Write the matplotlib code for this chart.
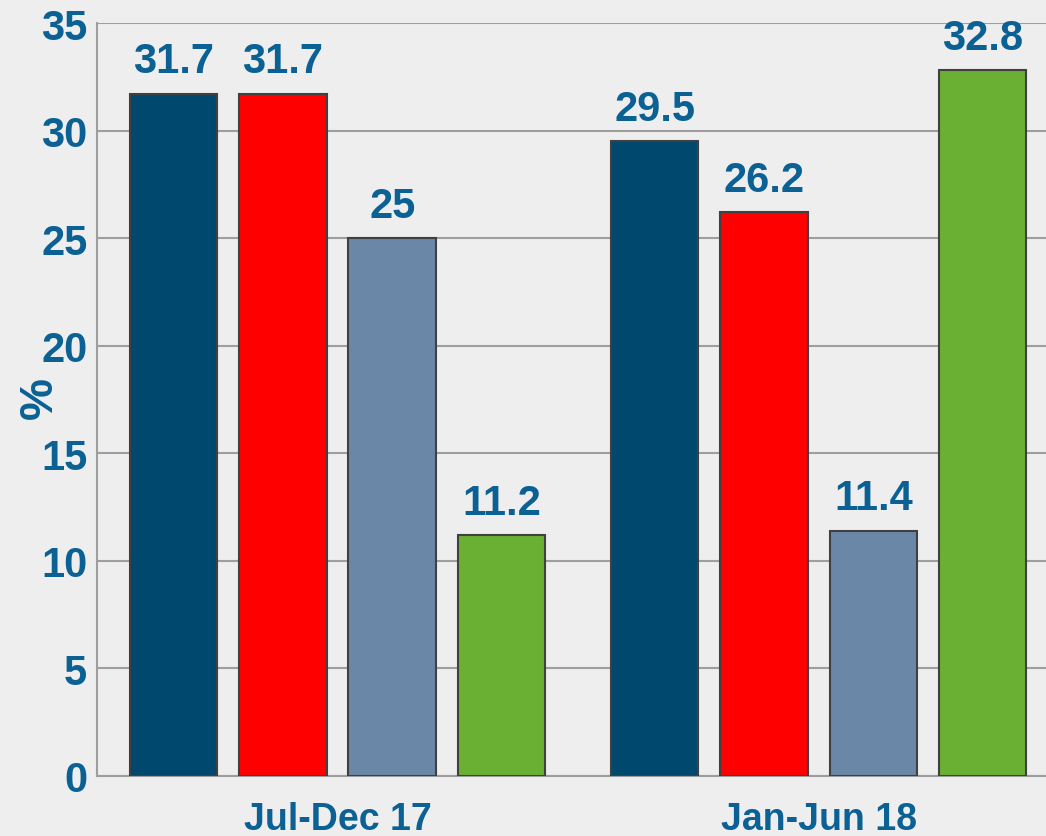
import matplotlib
matplotlib.use("Agg")
from matplotlib import pyplot as plt

periods = ["Jul-Dec 17", "Jan-Jun 18"]
series_colors = ["#00486e", "#ff0000", "#6a87a7", "#6ab033"]
values_jul_dec_17 = [31.7, 31.7, 25, 11.2]
values_jan_jun_18 = [29.5, 26.2, 11.4, 32.8]
value_labels_jul_dec_17 = ["31.7", "31.7", "25", "11.2"]
value_labels_jan_jun_18 = ["29.5", "26.2", "11.4", "32.8"]
y_ticks = [0, 5, 10, 15, 20, 25, 30, 35]

text_color = "#0b6194"
bg = "#eeeeee"

plt.rcParams["font.family"] = ["Liberation Sans", "DejaVu Sans"]
plt.rcParams["font.weight"] = "bold"

fig = plt.figure(figsize=(10.46, 8.37), dpi=100, facecolor=bg)
ax = fig.add_axes([97 / 1046, 60 / 837, 1 - 97 / 1046, (777 - 24) / 837])
ax.set_facecolor(bg)

group_step = 4.4
groups = [values_jul_dec_17, values_jan_jun_18]
group_labels = [value_labels_jul_dec_17, value_labels_jan_jun_18]
for g, (vals, labs) in enumerate(zip(groups, group_labels)):
    xs = [g * group_step + i for i in range(len(vals))]
    bars = ax.bar(xs, vals, width=0.8, color=series_colors,
                  edgecolor="#404040", linewidth=1.5, zorder=3)
    for b, lab in zip(bars, labs):
        ax.annotate(lab, (b.get_x() + b.get_width() / 2, b.get_height()),
                    xytext=(0, 9), textcoords="offset points",
                    ha="center", va="bottom", fontsize=30,
                    fontweight="bold", color=text_color)

ax.set_xlim(-0.70, 7.98)
ax.set_ylim(0, 35)
ax.set_yticks(y_ticks)
ax.set_yticklabels([str(t) for t in y_ticks], fontsize=30,
                   fontweight="bold", color=text_color)
ax.set_xticks([1.5, group_step + 1.5])
ax.set_xticklabels(periods, fontsize=27, fontweight="bold", color=text_color)
ax.tick_params(axis="y", length=0, pad=7)
ax.tick_params(axis="x", length=0, pad=18)
ax.grid(axis="y", color="#9e9e9e", linewidth=1.5, zorder=0)
ax.set_axisbelow(True)

for side in ["top", "right"]:
    ax.spines[side].set_visible(False)
for side in ["left", "bottom"]:
    ax.spines[side].set_color("#9e9e9e")
    ax.spines[side].set_linewidth(1.5)

fig.text(40 / 1046, 1 - 398 / 837, "%", rotation=90, fontsize=34,
         fontweight="bold", color=text_color, ha="center", va="center")

fig.savefig("out.png", dpi=100, facecolor=bg)
